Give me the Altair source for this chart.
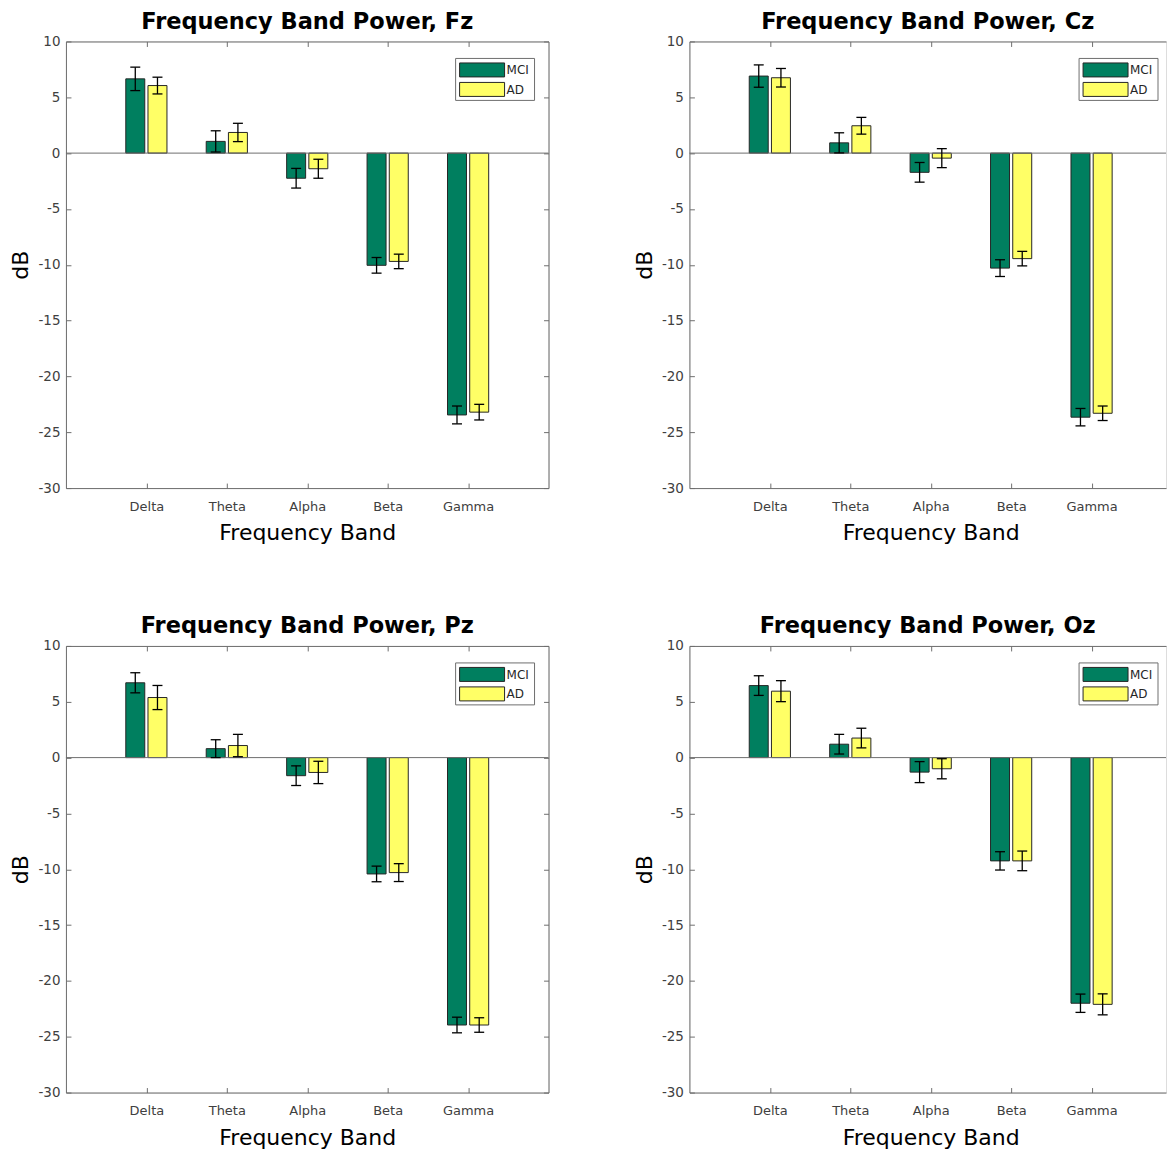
import json
import altair as alt
import pandas as pd

bands = ["Delta", "Theta", "Alpha", "Beta", "Gamma"]
groups = ["MCI", "AD"]
group_colors = ["#007f5f", "#ffff66"]
y_ticks = [-30, -25, -20, -15, -10, -5, 0, 5, 10]

fz_mci_mean = [6.65, 1.05, -2.25, -10.05, -23.45]
fz_mci_err = [1.05, 0.95, 0.88, 0.70, 0.80]
fz_ad_mean = [6.05, 1.85, -1.40, -9.70, -23.20]
fz_ad_err = [0.75, 0.82, 0.85, 0.65, 0.70]

cz_mci_mean = [6.90, 0.92, -1.72, -10.30, -23.65]
cz_mci_err = [1.00, 0.90, 0.88, 0.75, 0.78]
cz_ad_mean = [6.75, 2.45, -0.45, -9.45, -23.30]
cz_ad_err = [0.83, 0.75, 0.85, 0.65, 0.65]

pz_mci_mean = [6.70, 0.80, -1.62, -10.42, -23.95]
pz_mci_err = [0.90, 0.80, 0.88, 0.70, 0.70]
pz_ad_mean = [5.38, 1.08, -1.33, -10.30, -23.95]
pz_ad_err = [1.08, 1.00, 1.00, 0.80, 0.65]

oz_mci_mean = [6.45, 1.20, -1.30, -9.25, -22.00]
oz_mci_err = [0.88, 0.88, 0.94, 0.82, 0.82]
oz_ad_mean = [5.95, 1.75, -1.00, -9.25, -22.10]
oz_ad_err = [0.94, 0.88, 0.90, 0.88, 0.94]

GAP = 0.02
BARW = 0.236
CAP = 0.062
AXC = "#6e6e6e"
LBL = "#404040"
FONT = "DejaVu Sans"
H = 447
label_expr = json.dumps(bands) + "[datum.value - 1]"


def panel(elec, mci_m, mci_e, ad_m, ad_e, width, right_axis):
    xmax = width / 80.5
    rows = []
    for i, b in enumerate(bands):
        c = i + 1
        for g, m, e, s in (("MCI", mci_m[i], mci_e[i], -1), ("AD", ad_m[i], ad_e[i], 1)):
            xc = c + s * (GAP + BARW / 2)
            rows.append(dict(band=b, group=g, mean=m, err=e,
                             x0=c + s * GAP, x1=c + s * (GAP + BARW),
                             xc=xc, cx0=xc - CAP, cx1=xc + CAP,
                             lo=m - e, hi=m + e))
    df = pd.DataFrame(rows)
    xs = alt.Scale(domain=[0, xmax], nice=False, zero=False)
    ys = alt.Scale(domain=[-30, 10], nice=False, zero=False)
    base = alt.Chart(df)

    bottom_axis = alt.Axis(values=[1, 2, 3, 4, 5], labelExpr=label_expr, grid=False,
                           tickSize={"expr": "-5"}, tickColor=AXC, domainColor=AXC,
                           labelFontSize=13, labelColor=LBL, labelFont=FONT, labelPadding=17,
                           title="Frequency Band", titleFontSize=22, titleFontWeight="normal",
                           titleColor="black", titleFont=FONT, titleY=34.5, titleBaseline="top",
                           titleX=241.5)
    left_axis = alt.Axis(values=y_ticks, labelExpr="'' + datum.value", grid=False,
                         tickSize={"expr": "-5"}, tickColor=AXC,
                         domainColor=AXC, labelFontSize=13.5, labelColor=LBL, labelFont=FONT,
                         labelPadding=11, title="dB", titleFontSize=22, titleFontWeight="normal",
                         titleColor="black", titleFont=FONT, titleX=-38, titleY=H / 2,
                         titleBaseline="alphabetic", titleAngle=270, titleAlign="center")
    top_axis = alt.Axis(orient="top", values=[1, 2, 3, 4, 5], labels=False, grid=False,
                        tickSize={"expr": "-5"}, tickColor=AXC, domainColor=AXC, title=None)
    if right_axis:
        frame_y = alt.Y("mean:Q", scale=ys, axis=alt.Axis(
            orient="right", values=y_ticks, labels=False, grid=False,
            tickSize={"expr": "-5"}, tickColor=AXC, domainColor=AXC, title=None))
    else:
        frame_y = alt.Y("mean:Q", scale=ys, axis=None)

    bars = base.mark_bar(stroke="#262626", strokeWidth=1).encode(
        x=alt.X("x0:Q", scale=xs, axis=bottom_axis),
        x2="x1",
        y=alt.Y("mean:Q", scale=ys, axis=left_axis),
        y2=alt.datum(0),
        fill=alt.Fill("group:N", scale=alt.Scale(domain=groups, range=group_colors), legend=None),
    )
    zero = alt.Chart(alt.Data(values=[{"v": 0}])).mark_rule(color=AXC, strokeWidth=1).encode(
        x=alt.value(0), x2=alt.value(width), y=alt.Y("v:Q", scale=ys, axis=None))
    ebar = base.mark_rule(color="black", strokeWidth=1.3).encode(
        x=alt.X("xc:Q", scale=xs, axis=None), y=alt.Y("lo:Q", scale=ys, axis=None), y2="hi")
    cap_lo = base.mark_rule(color="black", strokeWidth=1.3).encode(
        x=alt.X("cx0:Q", scale=xs, axis=None), x2="cx1", y=alt.Y("lo:Q", scale=ys, axis=None))
    cap_hi = base.mark_rule(color="black", strokeWidth=1.3).encode(
        x=alt.X("cx0:Q", scale=xs, axis=None), x2="cx1", y=alt.Y("hi:Q", scale=ys, axis=None))
    frame = base.mark_point(opacity=0).encode(
        x=alt.X("xc:Q", scale=xs, axis=top_axis), y=frame_y)

    one = alt.Data(values=[{"k": 1}])
    lbox = alt.Chart(one).mark_rect(fill="white", stroke=AXC, strokeWidth=1).encode(
        x=alt.value(390), x2=alt.value(469), y=alt.value(17), y2=alt.value(59))
    sw1 = alt.Chart(one).mark_rect(fill=group_colors[0], stroke="#262626", strokeWidth=1).encode(
        x=alt.value(394), x2=alt.value(439), y=alt.value(21.5), y2=alt.value(35.5))
    sw2 = alt.Chart(one).mark_rect(fill=group_colors[1], stroke="#262626", strokeWidth=1).encode(
        x=alt.value(394), x2=alt.value(439), y=alt.value(41), y2=alt.value(55))
    t1 = alt.Chart(one).mark_text(text=groups[0], align="left", baseline="middle", fontSize=12,
                                  font=FONT, color="#262626").encode(
        x=alt.value(441), y=alt.value(29))
    t2 = alt.Chart(one).mark_text(text=groups[1], align="left", baseline="middle", fontSize=12,
                                  font=FONT, color="#262626").encode(
        x=alt.value(441), y=alt.value(48.5))

    return alt.layer(bars, zero, ebar, cap_lo, cap_hi, frame, lbox, sw1, sw2, t1, t2).resolve_axis(
        x="independent", y="independent"
    ).properties(
        width=width, height=H,
        title=alt.TitleParams(f"Frequency Band Power, {elec}", fontSize=22.5, fontWeight="bold",
                              font=FONT, color="black", offset=1, anchor="middle"),
    )


p1 = panel("Fz", fz_mci_mean, fz_mci_err, fz_ad_mean, fz_ad_err, 483, True)
p2 = panel("Cz", cz_mci_mean, cz_mci_err, cz_ad_mean, cz_ad_err, 477, False)
p3 = panel("Pz", pz_mci_mean, pz_mci_err, pz_ad_mean, pz_ad_err, 483, True)
p4 = panel("Oz", oz_mci_mean, oz_mci_err, oz_ad_mean, oz_ad_err, 477, False)

chart = alt.concat(p1, p2, p3, p4, columns=2, spacing={"row": 158, "column": 141},
                   bounds="flush").properties(
    padding={"left": 9, "top": 10, "right": 0, "bottom": 5}
).configure_view(stroke=None).configure(background="white")

chart.save("out.html", embed_options={"renderer": "svg", "actions": False})
